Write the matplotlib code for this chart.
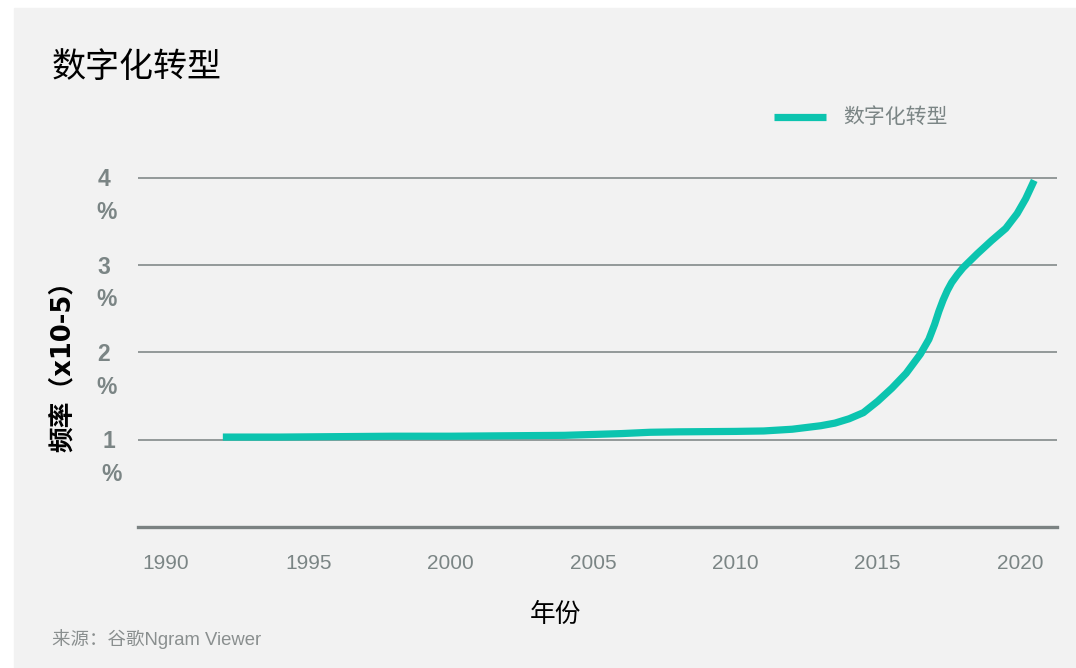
import matplotlib
matplotlib.use("Agg")
import matplotlib.pyplot as plt
from matplotlib.patches import Rectangle
from matplotlib.lines import Line2D

plt.rcParams['font.family'] = ['Liberation Sans', 'Noto Sans CJK SC', 'DejaVu Sans']

# data (frequency x1e-5)
years = [1992, 1994, 1996, 1998, 2000, 2002, 2004, 2006, 2007, 2008, 2010, 2011,
         2012, 2013, 2013.5, 2014, 2014.5, 2015, 2015.5, 2016, 2016.5, 2016.8,
         2017, 2017.15, 2017.3, 2017.45, 2017.6, 2017.8, 2018, 2018.5, 2019, 2019.5,
         2019.9, 2020.2, 2020.5]
freq = [1.03, 1.03, 1.035, 1.04, 1.04, 1.045, 1.05, 1.07, 1.085, 1.09, 1.095, 1.10,
        1.12, 1.16, 1.19, 1.24, 1.31, 1.44, 1.59, 1.76, 1.98, 2.15,
        2.32, 2.47, 2.6, 2.71, 2.8, 2.89, 2.97, 3.13, 3.28, 3.42,
        3.59, 3.76, 3.97]
xticks = [1990, 1995, 2000, 2005, 2010, 2015, 2020]
yticks = [1, 2, 3, 4]

teal = '#0cc4af'
grey_txt = '#7b8585'
bg = '#f2f2f2'

fig = plt.figure(figsize=(10.76, 6.68), dpi=100)
fig.patch.set_facecolor('white')
fig.patches.append(Rectangle((14 / 1076, 0), 1 - 14 / 1076, 1 - 8 / 668,
                             transform=fig.transFigure, color=bg, zorder=-10))

top_px = 527 - 4.1 * 87.3
ax = fig.add_axes([138 / 1076, (668 - 527) / 668, (1057 - 138) / 1076, (527 - top_px) / 668])
ax.patch.set_alpha(0)
ax.set_xlim(1989.02, 2021.30)
ax.set_ylim(0, 4.1)

for v in yticks:
    ax.axhline(v, color='#8c9292', lw=1.3, zorder=1)

ax.plot(years, freq, color=teal, lw=5.2, solid_capstyle='butt', solid_joinstyle='round', zorder=3)

for s in ['top', 'right', 'left']:
    ax.spines[s].set_visible(False)
ax.spines['bottom'].set_color('#7b8282')
ax.spines['bottom'].set_linewidth(2.4)

ax.set_xticks(xticks)
ax.set_xticklabels([str(x) for x in xticks], fontsize=15, color=grey_txt)
ax.tick_params(axis='x', length=0, pad=19.5)
ax.set_yticks([])

# y labels: number on the gridline, "%" on the line below
for v in yticks:
    dx = -18.7 if v == 1 else -22.3
    ax.annotate(str(v), xy=(0, v), xycoords=('axes fraction', 'data'),
                xytext=(dx - 2.5, -1.5), textcoords='offset points',
                ha='center', va='center', fontsize=16.5, fontweight='bold', color=grey_txt)
    ax.annotate('%', xy=(0, v), xycoords=('axes fraction', 'data'),
                xytext=(dx, -25), textcoords='offset points',
                ha='center', va='center', fontsize=16.5, fontweight='bold', color=grey_txt)

fig.text(63 / 1076, 1 - 360 / 668, '频率（x10-5）', rotation=90, ha='center', va='center',
         fontsize=18.5, fontweight='bold', color='black',
         family=['DejaVu Sans', 'Noto Sans CJK SC'])
fig.text(556 / 1076, 1 - 615 / 668, '年份', ha='center', va='center', fontsize=18.5,
         color='black', family=['Noto Sans CJK SC'])
fig.text(52 / 1076, 1 - 68 / 668, '数字化转型', ha='left', va='center', fontsize=24.5,
         color='black', family=['Noto Sans CJK SC'])
fig.text(52 / 1076, 1 - 639 / 668, '来源：谷歌Ngram Viewer', ha='left', va='center',
         fontsize=13.3, color='#8a8f8f', family=['Liberation Sans', 'Noto Sans CJK SC'])

fig.lines.append(Line2D([774 / 1076, 826 / 1076], [1 - 117 / 668] * 2,
                        transform=fig.transFigure, color=teal, lw=5.2,
                        solid_capstyle='butt'))
fig.text(843 / 1076, 1 - 117 / 668, '数字化转型', ha='left', va='center', fontsize=15,
         color=grey_txt, family=['Noto Sans CJK SC'])

fig.savefig('out.png', dpi=100, facecolor=fig.get_facecolor())
